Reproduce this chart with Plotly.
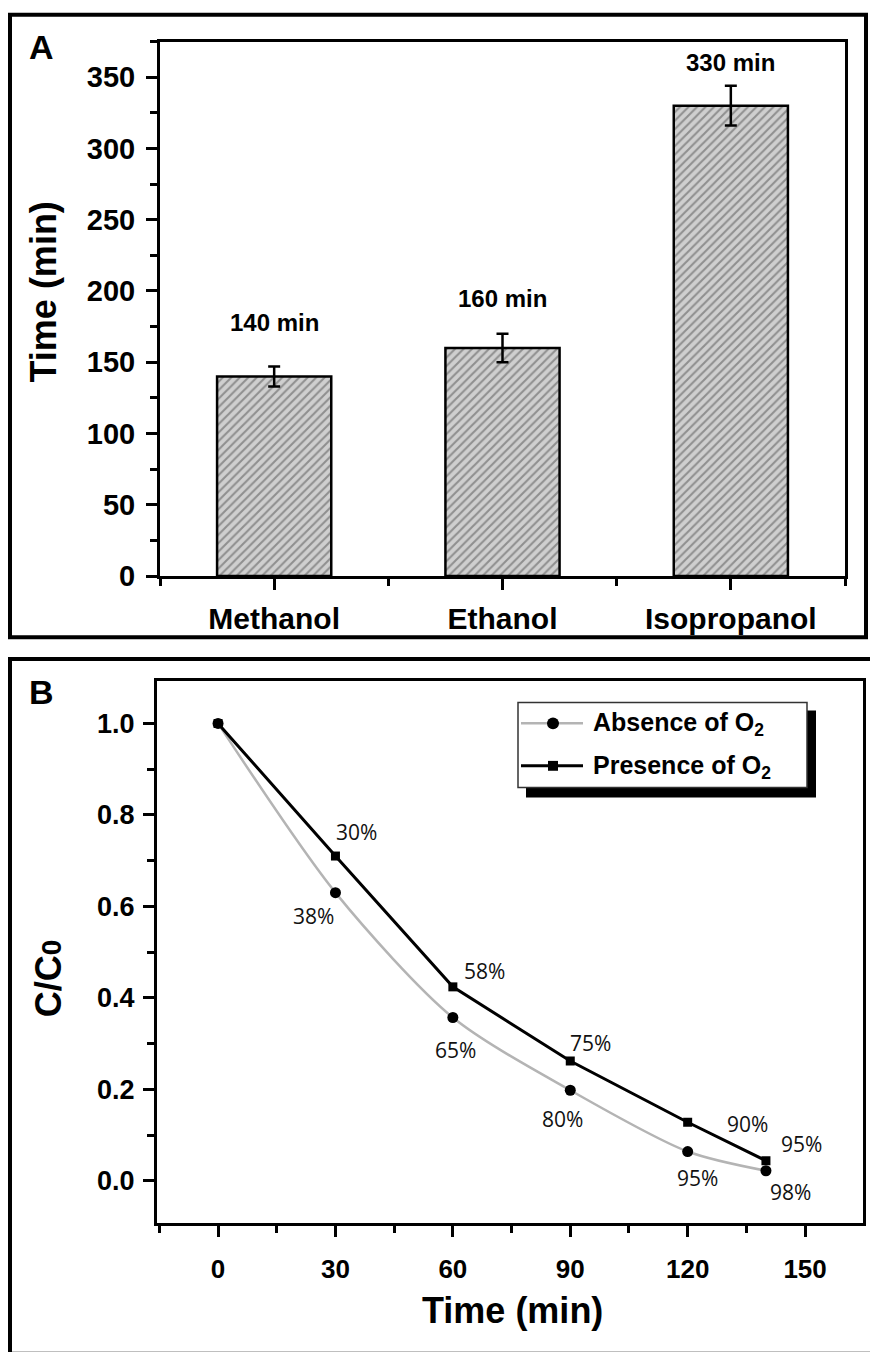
import plotly.graph_objects as go

W, H = 870, 1352

# Panel A: time per alcohol
solvents = ["Methanol", "Ethanol", "Isopropanol"]
times = [140, 160, 330]
time_err = [7, 10, 14]
label_offset = [38, 35, 30]

# Panel B: relative concentration vs time
t_min = [0, 30, 60, 90, 120, 140]
absence_o2 = [1.0, 0.63, 0.357, 0.198, 0.064, 0.022]
presence_o2 = [1.0, 0.71, 0.424, 0.262, 0.128, 0.044]

pct_presence = ["30%", "58%", "75%", "90%", "95%"]
pct_presence_xy = [(35.5, 0.762), (68.2, 0.458), (95.1, 0.302), (135.4, 0.125), (149.2, 0.080)]
pct_absence = ["38%", "65%", "80%", "95%", "98%"]
pct_absence_xy = [(24.3, 0.579), (60.6, 0.285), (87.9, 0.136), (122.4, 0.006), (146.2, -0.024)]

FONT = "Liberation Sans, Arial, sans-serif"


def px(x):
    return x / W


def py(y):
    return 1 - y / H


fig = go.Figure()

fig.add_trace(go.Bar(
    x=[1, 2, 3], y=times, width=0.5,
    marker=dict(
        color="#cfcfcf",
        line=dict(color="black", width=2.5),
        pattern=dict(shape="/", fgcolor="#505050", bgcolor="#cfcfcf", size=6, solidity=0.35),
    ),
    error_y=dict(type="data", array=time_err, color="black", thickness=2.5, width=6),
    xaxis="x", yaxis="y", showlegend=False,
))

fig.add_trace(go.Scatter(
    x=t_min, y=absence_o2, mode="lines+markers",
    line=dict(color="#b4b4b4", width=2.5, shape="spline", smoothing=0.8),
    marker=dict(symbol="circle", size=11, color="black"),
    xaxis="x2", yaxis="y2", showlegend=False,
))
fig.add_trace(go.Scatter(
    x=t_min, y=presence_o2, mode="lines+markers",
    line=dict(color="black", width=3),
    marker=dict(symbol="square", size=9, color="black"),
    xaxis="x2", yaxis="y2", showlegend=False,
))

axis_common = dict(showline=True, linecolor="black", linewidth=3, mirror=True,
                   showgrid=False, zeroline=False, ticks="outside", tickcolor="black",
                   tickwidth=3, ticklen=11)

fig.update_layout(
    width=W, height=H, margin=dict(l=0, r=0, t=0, b=0),
    paper_bgcolor="white", plot_bgcolor="white",
    font=dict(family=FONT, color="black"),
    xaxis=dict(domain=[px(160), px(845)], range=[0.5, 3.5],
               tickvals=[1, 2, 3], ticktext=solvents,
               tickfont=dict(size=30, weight="bold"), ticklabelstandoff=3,
               minor=dict(ticks="outside", tick0=0.5, dtick=1, ticklen=7, tickwidth=3, tickcolor="black"),
               anchor="y", **axis_common),
    yaxis=dict(domain=[py(583), py(42)], range=[0, 375], dtick=50,
               tickfont=dict(size=29, weight="bold"), ticklabelstandoff=5,
               minor=dict(ticks="outside", dtick=25, ticklen=7, tickwidth=3, tickcolor="black"),
               anchor="x", **axis_common),
    xaxis2=dict(domain=[px(157), px(863)], range=[-15.6, 164.8], dtick=30, tick0=0,
                tickfont=dict(size=26, weight="bold"), ticklabelstandoff=9,
                minor=dict(ticks="outside", dtick=15, tick0=0, ticklen=7, tickwidth=3, tickcolor="black"),
                anchor="y2", **axis_common),
    yaxis2=dict(domain=[py(1238), py(689)], range=[-0.093, 1.093], dtick=0.2, tick0=0,
                tickformat=".1f",
                tickfont=dict(size=27, weight="bold"), ticklabelstandoff=3,
                minor=dict(ticks="outside", dtick=0.1, tick0=0, ticklen=7, tickwidth=3, tickcolor="black"),
                anchor="x2", **axis_common),
)

shapes = [
    # panel frames
    dict(type="rect", xref="paper", yref="paper", x0=px(10), x1=px(866), y0=py(645), y1=py(15),
         line=dict(color="black", width=4)),
    dict(type="rect", xref="paper", yref="paper", x0=px(10), x1=px(880), y0=py(1370), y1=py(667),
         line=dict(color="black", width=4)),
    # legend box with drop shadow
    dict(type="rect", xref="paper", yref="paper", x0=px(526), x1=px(816), y0=py(807), y1=py(719),
         fillcolor="black", line=dict(width=0)),
    dict(type="rect", xref="paper", yref="paper", x0=px(518), x1=px(807), y0=py(797), y1=py(711),
         fillcolor="white", line=dict(color="#333333", width=1.5)),
    dict(type="line", xref="paper", yref="paper", x0=px(521), x1=px(583), y0=py(732), y1=py(732),
         line=dict(color="#b4b4b4", width=2.5)),
    dict(type="circle", xref="paper", yref="paper", x0=px(547), x1=px(559), y0=py(738), y1=py(726),
         fillcolor="black", line=dict(width=0)),
    dict(type="line", xref="paper", yref="paper", x0=px(521), x1=px(583), y0=py(775), y1=py(775),
         line=dict(color="black", width=3)),
    dict(type="rect", xref="paper", yref="paper", x0=px(548), x1=px(558), y0=py(780), y1=py(770),
         fillcolor="black", line=dict(width=0)),
]

ann = []
# panel letters
ann.append(dict(text="<b>A</b>", x=px(41), y=py(48), xref="paper", yref="paper",
                showarrow=False, font=dict(size=34), xanchor="center", yanchor="middle"))
ann.append(dict(text="<b>B</b>", x=px(41), y=py(700), xref="paper", yref="paper",
                showarrow=False, font=dict(size=34), xanchor="center", yanchor="middle"))
# axis titles
ann.append(dict(text="<b>Time (min)</b>", x=px(43), y=py(296), xref="paper", yref="paper",
                showarrow=False, textangle=-90, font=dict(size=36), xanchor="center", yanchor="middle"))
ann.append(dict(text="<b>C/C<span style='font-size:28px'>0</span></b>", x=px(48), y=py(990),
                xref="paper", yref="paper", showarrow=False, textangle=-90, font=dict(size=36),
                xanchor="center", yanchor="middle"))
ann.append(dict(text="<b>Time (min)</b>", x=px(512), y=py(1326), xref="paper", yref="paper",
                showarrow=False, font=dict(size=36), xanchor="center", yanchor="middle"))
# bar value labels
for i, (v, off) in enumerate(zip(times, label_offset)):
    ann.append(dict(text=f"<b>{v} min</b>", x=i + 1, y=v + off, xref="x", yref="y",
                    showarrow=False, font=dict(size=24), xanchor="center", yanchor="middle"))
# percentage labels
for txt, (xx, yy) in zip(pct_presence + pct_absence, pct_presence_xy + pct_absence_xy):
    ann.append(dict(text=txt, x=xx, y=yy, xref="x2", yref="y2", showarrow=False,
                    font=dict(size=21, family="Open Sans, sans-serif", color="#111111"),
                    xanchor="center", yanchor="middle"))
# legend entries
ann.append(dict(text="<b>Absence of O<sub>2</sub></b>", x=px(591), y=py(733), xref="paper", yref="paper",
                showarrow=False, font=dict(size=25), xanchor="left", yanchor="middle"))
ann.append(dict(text="<b>Presence of O<sub>2</sub></b>", x=px(591), y=py(776), xref="paper", yref="paper",
                showarrow=False, font=dict(size=25), xanchor="left", yanchor="middle"))

fig.update_layout(shapes=shapes, annotations=ann)

fig.write_html("out.html")
